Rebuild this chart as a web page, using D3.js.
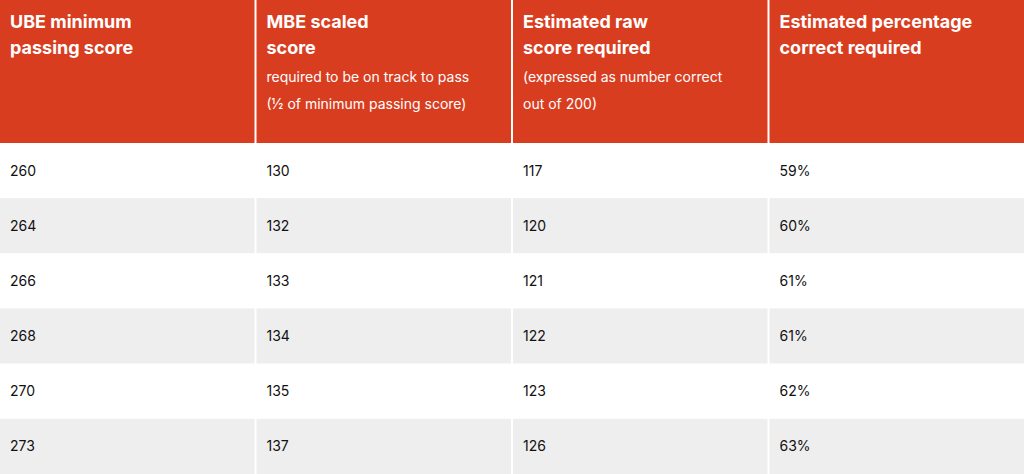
<!DOCTYPE html>
<html><head><meta charset="utf-8">
<script src="https://cdn.jsdelivr.net/npm/d3@7"></script>
<style>body{margin:0;background:#fff}svg{display:block;font-family:Inter,sans-serif}</style>
</head><body><svg id="t" width="1024" height="474"></svg>
<script>
// table content
var headers = [["UBE minimum", "passing score"], ["MBE scaled", "score"], ["Estimated raw", "score required"], ["Estimated percentage", "correct required"]];
var subheads = [[], ["required to be on track to pass", "(½ of minimum passing score)"], ["(expressed as number correct", "out of 200)"], []];
var ube = [260, 264, 266, 268, 270, 273];
var mbe = [130, 132, 133, 134, 135, 137];
var raw = [117, 120, 121, 122, 123, 126];
var pct = ["59%", "60%", "61%", "61%", "62%", "63%"];

var rows = ube.map((d, i) => [d, mbe[i], raw[i], pct[i]]);
var svg = d3.select("#t");
var headH = 143;

var x = d3.scaleBand().domain(d3.range(4)).range([0, 1026]);
var y = d3.scaleBand().domain(d3.range(rows.length)).range([headH, 474]);

svg.selectAll("rect.h").data(d3.range(4)).enter().append("rect")
    .attr("x", d => x(d)).attr("y", 0)
    .attr("width", x.bandwidth() - 2).attr("height", headH)
    .attr("fill", "#D93D1F");

var hg = svg.selectAll("g.h").data(d3.range(4)).enter().append("g")
    .attr("transform", d => "translate(" + (x(d) + 10) + ",0)");
hg.each(function(c) {
    var g = d3.select(this);
    headers[c].forEach((t, k) => g.append("text").attr("y", 28 + k * 26)
        .attr("fill", "#fff").attr("font-size", 18).attr("font-weight", 700).text(t));
    subheads[c].forEach((t, k) => g.append("text").attr("y", 82 + k * 27)
        .attr("fill", "#fff").attr("font-size", 14).text(t));
});

var rg = svg.selectAll("g.r").data(rows).enter().append("g")
    .attr("transform", (d, i) => "translate(0," + y(i) + ")");
rg.each(function(r, i) {
    var g = d3.select(this);
    r.forEach((v, c) => {
        g.append("rect").attr("x", x(c)).attr("width", x.bandwidth() - 2)
            .attr("height", y.bandwidth()).attr("fill", i % 2 ? "#EEEEEE" : "#fff");
        g.append("text").attr("x", x(c) + 10).attr("y", y.bandwidth() / 2 + 5)
            .attr("font-size", 14).attr("fill", "#111").text(v);
    });
});
</script></body></html>
